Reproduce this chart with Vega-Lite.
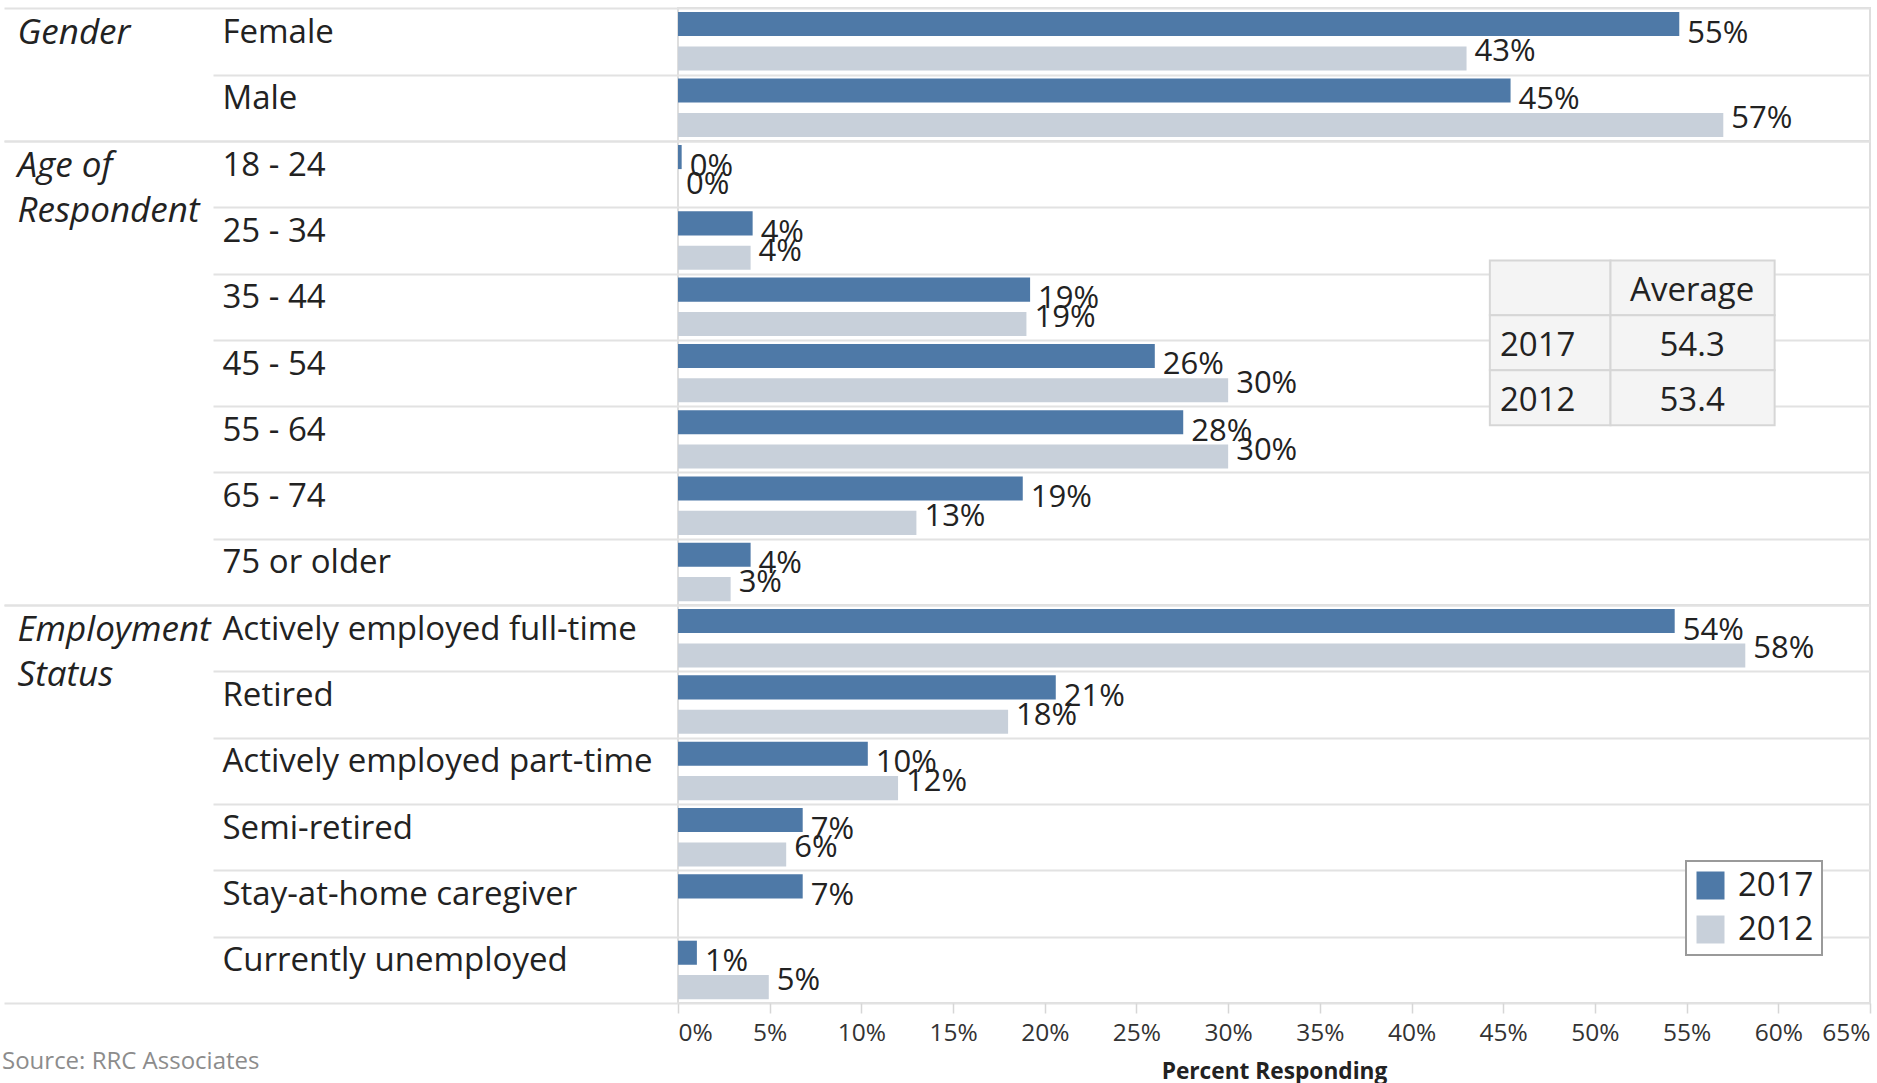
{
  "$schema": "https://vega.github.io/schema/vega-lite/v6.json",
  "padding": {"left": 2, "top": 6, "right": 4, "bottom": 0},
  "background": "white",
  "config": {
    "font": "Open Sans",
    "view": {"stroke": "#dedede", "strokeWidth": 2},
    "legend": {
      "labelFont": "Open Sans", "labelFontSize": 33, "labelColor": "#222",
      "symbolType": "square", "symbolSize": 784, "symbolStrokeWidth": 0,
      "strokeColor": "#9a9a9a", "strokeWidth": 2, "fillColor": "white",
      "padding": 8, "rowPadding": 10, "labelOffset": 11
    }
  },
  "title": {
    "text": "Source: RRC Associates", "orient": "bottom", "anchor": "start", "frame": "bounds",
    "font": "Open Sans", "fontSize": 24, "fontWeight": "normal", "color": "#8c8c8c",
    "baseline": "top", "offset": -34
  },
  "datasets": {
    "bars": [
      {"group": "Gender", "category": "Female", "year": "2017", "value": 0.546},
      {"group": "Gender", "category": "Female", "year": "2012", "value": 0.430},
      {"group": "Gender", "category": "Male", "year": "2017", "value": 0.454},
      {"group": "Gender", "category": "Male", "year": "2012", "value": 0.570},
      {"group": "Age", "category": "18 - 24", "year": "2017", "value": 0.002},
      {"group": "Age", "category": "18 - 24", "year": "2012", "value": 0.0},
      {"group": "Age", "category": "25 - 34", "year": "2017", "value": 0.0407},
      {"group": "Age", "category": "25 - 34", "year": "2012", "value": 0.0396},
      {"group": "Age", "category": "35 - 44", "year": "2017", "value": 0.192},
      {"group": "Age", "category": "35 - 44", "year": "2012", "value": 0.190},
      {"group": "Age", "category": "45 - 54", "year": "2017", "value": 0.260},
      {"group": "Age", "category": "45 - 54", "year": "2012", "value": 0.300},
      {"group": "Age", "category": "55 - 64", "year": "2017", "value": 0.2755},
      {"group": "Age", "category": "55 - 64", "year": "2012", "value": 0.300},
      {"group": "Age", "category": "65 - 74", "year": "2017", "value": 0.188},
      {"group": "Age", "category": "65 - 74", "year": "2012", "value": 0.130},
      {"group": "Age", "category": "75 or older", "year": "2017", "value": 0.0396},
      {"group": "Age", "category": "75 or older", "year": "2012", "value": 0.0287},
      {"group": "Employment", "category": "Actively employed full-time", "year": "2017", "value": 0.5435},
      {"group": "Employment", "category": "Actively employed full-time", "year": "2012", "value": 0.582},
      {"group": "Employment", "category": "Retired", "year": "2017", "value": 0.206},
      {"group": "Employment", "category": "Retired", "year": "2012", "value": 0.180},
      {"group": "Employment", "category": "Actively employed part-time", "year": "2017", "value": 0.1035},
      {"group": "Employment", "category": "Actively employed part-time", "year": "2012", "value": 0.120},
      {"group": "Employment", "category": "Semi-retired", "year": "2017", "value": 0.068},
      {"group": "Employment", "category": "Semi-retired", "year": "2012", "value": 0.059},
      {"group": "Employment", "category": "Stay-at-home caregiver", "year": "2017", "value": 0.068},
      {"group": "Employment", "category": "Currently unemployed", "year": "2017", "value": 0.0103},
      {"group": "Employment", "category": "Currently unemployed", "year": "2012", "value": 0.0495}
    ],
    "table": [
      {"row": "h", "c1": "", "c2": "Average"},
      {"row": "2017", "c1": "2017", "c2": "54.3"},
      {"row": "2012", "c1": "2012", "c2": "53.4"}
    ]
  },
  "vconcat": [
    {
      "width": 1192, "height": 133,
      "data": {"name": "bars"},
      "transform": [{"filter": "datum.group === 'Gender'"}],
      "encoding": {
        "y": {
          "field": "category", "type": "nominal", "sort": ["Female", "Male"],
          "scale": {"paddingInner": 0, "paddingOuter": 0},
          "axis": {
            "title": "Gender", "titleAngle": 0, "titleAlign": "left", "titleBaseline": "top",
            "titleX": -661, "titleY": 7.5, "titleFont": "Open Sans", "titleFontSize": 35,
            "titleFontStyle": "italic", "titleFontWeight": "normal", "titleColor": "#222", "titleLineHeight": 45,
            "labelAlign": "left", "labelOffset": 1,
            "labelBaseline": {"condition": {"test": "datum.index === -1", "value": "top"}, "value": "alphabetic"},
            "labelFont": "Open Sans", "labelFontSize": 33, "labelColor": "#222", "labelLimit": 600,
            "labelPadding": {"condition": {"test": "datum.index === 1", "value": -218}, "value": -9},
            "tickBand": "extent",
            "tickSize": {"condition": {"test": "datum.index === -1 || datum.index === 1", "value": 674}, "value": 465},
            "tickColor": "#e2e2e2", "tickWidth": 2,
            "grid": true, "gridColor": "#e2e2e2", "gridWidth": 2, "domain": false
          }
        },
        "x": {"field": "value", "type": "quantitative", "scale": {"domain": [0, 0.65], "nice": false}, "axis": null},
        "yOffset": {"field": "year", "type": "nominal", "sort": ["2017", "2012"], "scale": {"paddingInner": 0.3, "paddingOuter": 0.117}}
      },
      "layer": [
        {
          "mark": {"type": "bar"},
          "encoding": {
            "color": {"field": "year", "type": "nominal", "scale": {"domain": ["2017", "2012"], "range": ["#4e79a7", "#c8d0da"]}, "legend": null}
          }
        },
        {
          "transform": [{"filter": "datum.year === '2017'"}],
          "mark": {"type": "text", "align": "left", "baseline": "alphabetic", "dx": 8, "dy": 18.5, "fontSize": 31, "color": "#222"},
          "encoding": {"text": {"field": "value", "type": "quantitative", "format": ".0%"}}
        },
        {
          "transform": [{"filter": "datum.year === '2012'"}],
          "mark": {"type": "text", "align": "left", "baseline": "alphabetic", "dx": 8, "dy": 3, "fontSize": 31, "color": "#222"},
          "encoding": {"text": {"field": "value", "type": "quantitative", "format": ".0%"}}
        }
      ]
    },
    {
      "width": 1192, "height": 464,
      "layer": [
        {
          "data": {"name": "bars"},
          "transform": [{"filter": "datum.group === 'Age'"}],
          "encoding": {
            "y": {
              "field": "category", "type": "nominal",
              "sort": ["18 - 24", "25 - 34", "35 - 44", "45 - 54", "55 - 64", "65 - 74", "75 or older"],
              "scale": {"paddingInner": 0, "paddingOuter": 0},
              "axis": {
                "title": ["Age of", "Respondent"], "titleAngle": 0, "titleAlign": "left", "titleBaseline": "top",
                "titleX": -661, "titleY": 7, "titleFont": "Open Sans", "titleFontSize": 35,
                "titleFontStyle": "italic", "titleFontWeight": "normal", "titleColor": "#222", "titleLineHeight": 45,
                "labelAlign": "left", "labelOffset": 1,
                "labelBaseline": {"condition": {"test": "datum.index === -1", "value": "top"}, "value": "alphabetic"},
                "labelFont": "Open Sans", "labelFontSize": 33, "labelColor": "#222", "labelLimit": 600,
                "labelPadding": {"condition": {"test": "datum.index === 1", "value": -218}, "value": -9},
                "tickBand": "extent",
                "tickSize": {"condition": {"test": "datum.index === -1 || datum.index === 1", "value": 674}, "value": 465},
                "tickColor": "#e2e2e2", "tickWidth": 2,
                "grid": true, "gridColor": "#e2e2e2", "gridWidth": 2, "domain": false
              }
            },
            "x": {"field": "value", "type": "quantitative", "scale": {"domain": [0, 0.65], "nice": false}, "axis": null},
            "yOffset": {"field": "year", "type": "nominal", "sort": ["2017", "2012"], "scale": {"paddingInner": 0.3, "paddingOuter": 0.117}}
          },
          "layer": [
            {
              "mark": {"type": "bar"},
              "encoding": {
                "color": {"field": "year", "type": "nominal", "scale": {"domain": ["2017", "2012"], "range": ["#4e79a7", "#c8d0da"]}, "legend": null}
              }
            },
            {
              "transform": [{"filter": "datum.year === '2017'"}],
              "mark": {"type": "text", "align": "left", "baseline": "alphabetic", "dx": 8, "dy": 18.5, "fontSize": 31, "color": "#222"},
              "encoding": {"text": {"field": "value", "type": "quantitative", "format": ".0%"}}
            },
            {
              "transform": [{"filter": "datum.year === '2012'"}],
              "mark": {"type": "text", "align": "left", "baseline": "alphabetic", "dx": 8, "dy": 3, "fontSize": 31, "color": "#222"},
              "encoding": {"text": {"field": "value", "type": "quantitative", "format": ".0%"}}
            }
          ]
        },
        {
          "data": {"name": "table"},
          "encoding": {
            "y": {"field": "row", "type": "nominal",
                  "scale": {"domain": ["_1", "_2", "h", "2017", "2012", "_3", "_4", "_5"], "paddingInner": 0, "paddingOuter": 0.22, "align": 0.39},
                  "axis": null}
          },
          "layer": [
            {
              "mark": {"type": "rect", "fill": "#f4f4f4", "stroke": "#d6d6d6", "strokeWidth": 2},
              "encoding": {
                "x": {"datum": 0.4427, "type": "quantitative", "scale": {"domain": [0, 0.65], "nice": false}},
                "x2": {"datum": 0.5085}
              }
            },
            {
              "mark": {"type": "rect", "fill": "#f4f4f4", "stroke": "#d6d6d6", "strokeWidth": 2},
              "encoding": {
                "x": {"datum": 0.5085, "type": "quantitative", "scale": {"domain": [0, 0.65], "nice": false}},
                "x2": {"datum": 0.598}
              }
            },
            {
              "mark": {"type": "text", "align": "left", "baseline": "alphabetic", "dy": 13, "fontSize": 33, "color": "#222"},
              "encoding": {
                "x": {"datum": 0.4482, "type": "quantitative", "scale": {"domain": [0, 0.65], "nice": false}},
                "text": {"field": "c1", "type": "nominal"}
              }
            },
            {
              "mark": {"type": "text", "align": "center", "baseline": "alphabetic", "dy": 13, "fontSize": 33, "color": "#222"},
              "encoding": {
                "x": {"datum": 0.553, "type": "quantitative", "scale": {"domain": [0, 0.65], "nice": false}},
                "text": {"field": "c2", "type": "nominal"}
              }
            }
          ]
        }
      ],
      "resolve": {"scale": {"y": "independent"}}
    },
    {
      "width": 1192, "height": 398,
      "data": {"name": "bars"},
      "transform": [{"filter": "datum.group === 'Employment'"}],
      "encoding": {
        "y": {
          "field": "category", "type": "nominal",
          "sort": ["Actively employed full-time", "Retired", "Actively employed part-time", "Semi-retired", "Stay-at-home caregiver", "Currently unemployed"],
          "scale": {"paddingInner": 0, "paddingOuter": 0},
          "axis": {
            "title": ["Employment", "Status"], "titleAngle": 0, "titleAlign": "left", "titleBaseline": "top",
            "titleX": -661, "titleY": 7, "titleFont": "Open Sans", "titleFontSize": 35,
            "titleFontStyle": "italic", "titleFontWeight": "normal", "titleColor": "#222", "titleLineHeight": 45,
            "labelAlign": "left", "labelOffset": 1,
            "labelBaseline": {"condition": {"test": "datum.index === -1", "value": "top"}, "value": "alphabetic"},
            "labelFont": "Open Sans", "labelFontSize": 33, "labelColor": "#222", "labelLimit": 600,
            "labelPadding": {"condition": {"test": "datum.index === 1", "value": -218}, "value": -9},
            "tickBand": "extent",
            "tickSize": {"condition": {"test": "datum.index === -1 || datum.index === 1", "value": 674}, "value": 465},
            "tickColor": "#e2e2e2", "tickWidth": 2,
            "grid": true, "gridColor": "#e2e2e2", "gridWidth": 2, "domain": false
          }
        },
        "x": {
          "field": "value", "type": "quantitative", "scale": {"domain": [0, 0.65], "nice": false},
          "axis": {
            "values": [0, 0.05, 0.1, 0.15, 0.2, 0.25, 0.3, 0.35, 0.4, 0.45, 0.5, 0.55, 0.6, 0.65],
            "format": ".0%", "labelFlush": true, "grid": false, "domain": false,
            "tickColor": "#d6d6d6", "tickSize": 10, "tickWidth": 1.5,
            "labelFont": "Open Sans", "labelFontSize": 24.5, "labelColor": "#333", "labelPadding": 8,
            "title": "Percent Responding", "titleFont": "Open Sans", "titleFontSize": 22.7, "titleFontWeight": "bold",
            "titleColor": "#222", "titlePadding": 15.5
          }
        },
        "yOffset": {"field": "year", "type": "nominal", "sort": ["2017", "2012"], "scale": {"paddingInner": 0.3, "paddingOuter": 0.117}}
      },
      "layer": [
        {
          "mark": {"type": "bar"},
          "encoding": {
            "color": {
              "field": "year", "type": "nominal",
              "scale": {"domain": ["2017", "2012"], "range": ["#4e79a7", "#c8d0da"]},
              "legend": {"title": null, "orient": "bottom-right", "offset": 48}
            }
          }
        },
        {
          "transform": [{"filter": "datum.year === '2017'"}],
          "mark": {"type": "text", "align": "left", "baseline": "alphabetic", "dx": 8, "dy": 18.5, "fontSize": 31, "color": "#222"},
          "encoding": {"text": {"field": "value", "type": "quantitative", "format": ".0%"}}
        },
        {
          "transform": [{"filter": "datum.year === '2012'"}],
          "mark": {"type": "text", "align": "left", "baseline": "alphabetic", "dx": 8, "dy": 3, "fontSize": 31, "color": "#222"},
          "encoding": {"text": {"field": "value", "type": "quantitative", "format": ".0%"}}
        }
      ]
    }
  ],
  "spacing": 0,
  "bounds": "flush",
  "resolve": {"scale": {"color": "independent"}, "legend": {"color": "independent"}}
}
